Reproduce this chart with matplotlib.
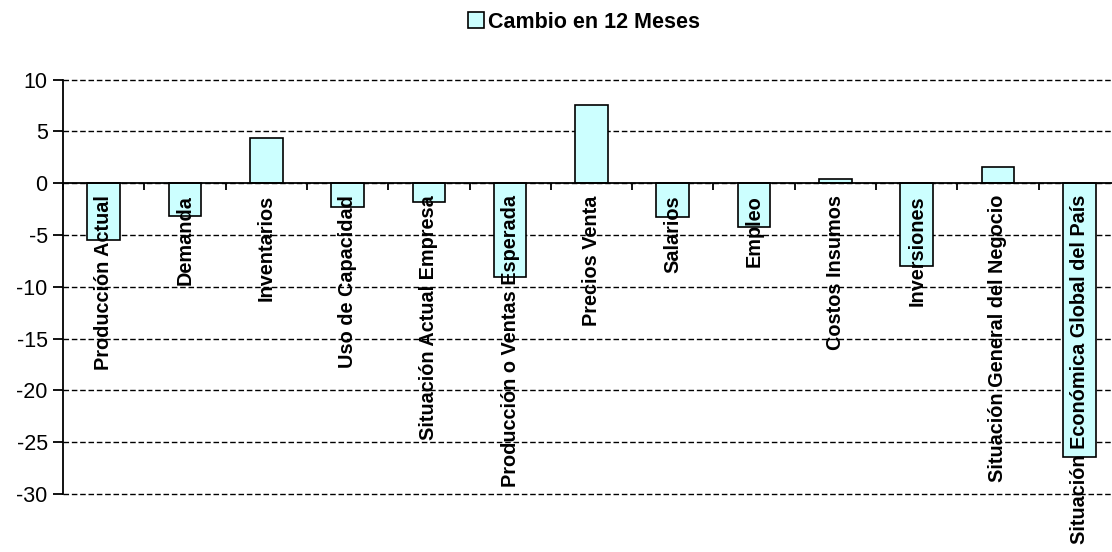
import numpy as np
from matplotlib import pyplot as plt
from matplotlib.patches import Patch

plt.rcParams['font.family'] = ['Liberation Sans', 'DejaVu Sans']

categorias = ["Producción Actual", "Demanda", "Inventarios", "Uso de Capacidad",
              "Situación Actual Empresa", "Producción o Ventas Esperada",
              "Precios Venta", "Salarios", "Empleo", "Costos Insumos",
              "Inversiones", "Situación General del Negocio",
              "Situación Económica Global del País"]
cambio_12m = [-5.5, -3.2, 4.4, -2.3, -1.8, -9.1, 7.5, -3.3, -4.2, 0.4, -8.0, 1.6, -26.4]
serie = "Cambio en 12 Meses"
y_ticks = [10, 5, 0, -5, -10, -15, -20, -25, -30]

# -----------------------
# figure / axes
# -----------------------
fig = plt.figure(figsize=(11.12, 5.52), dpi=100)
ax = fig.add_axes([63/1112, 1 - 494/552, 13*81.3/1112, (494 - 79.5)/552])

x = np.arange(len(categorias))
ax.bar(x, cambio_12m, width=0.4, color='#CCFFFF', edgecolor='black',
       linewidth=1.2, zorder=3)

ax.set_xlim(-0.5, len(categorias) - 0.5)
ax.set_ylim(-30, 10)
ax.set_yticks(y_ticks)
ax.set_yticklabels([str(v) for v in y_ticks], fontsize=15.5)
ax.yaxis.grid(True, linestyle=(0, (4, 2)), color='black', linewidth=1.0, zorder=0)
ax.set_axisbelow(True)
for gl in ax.get_ygridlines():
    gl.set_clip_on(False)

# x axis sits on zero, ticks at category boundaries
ax.spines['bottom'].set_position(('data', 0))
ax.spines['bottom'].set_linewidth(1.3)
ax.spines['bottom'].set_zorder(4)
ax.spines['left'].set_linewidth(1.3)
ax.spines['top'].set_visible(False)
ax.spines['right'].set_visible(False)
ax.set_xticks(np.arange(len(categorias) + 1) - 0.5)
ax.set_xticklabels([])
ax.tick_params(axis='x', direction='out', length=5, width=1.3)
ax.tick_params(axis='y', direction='out', length=7, width=1.3, pad=4)

for xi, lab in zip(x, categorias):
    ax.annotate(lab, xy=(xi, 0), xytext=(0, -12), textcoords='offset pixels',
                rotation=90, ha='center', va='top', fontsize=14.3,
                fontweight='bold', zorder=5, annotation_clip=False)

# -----------------------
# legend
# -----------------------
handle = Patch(facecolor='#CCFFFF', edgecolor='black', linewidth=1.2)
fig.legend([handle], [serie], loc='center', bbox_to_anchor=(0.525, 0.96),
           frameon=False, handlelength=0.75, handleheight=0.75,
           handletextpad=0.2, prop={'weight': 'bold', 'size': 15.5})

fig.savefig("out.png", dpi=100)
